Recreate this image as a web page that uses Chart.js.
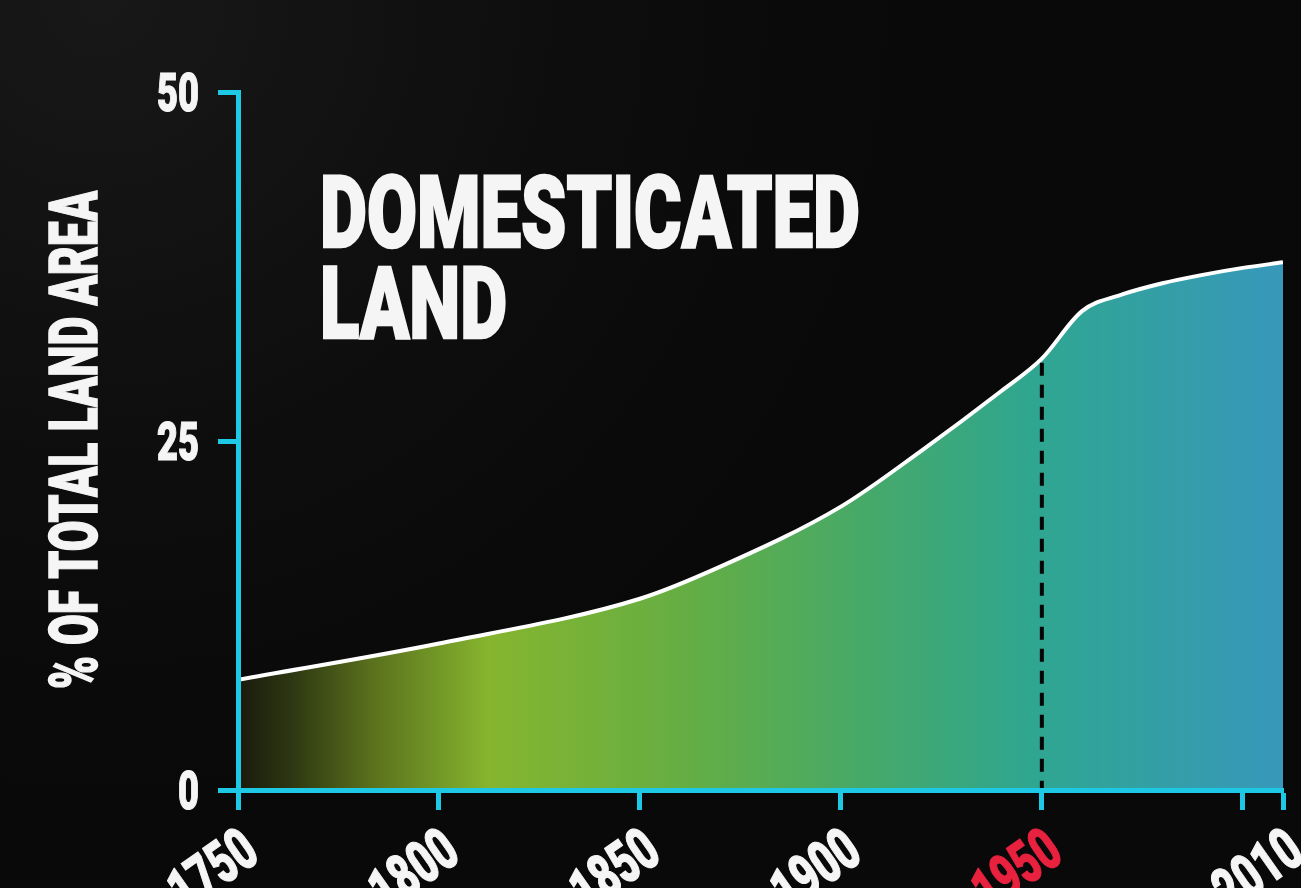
<!DOCTYPE html>
<html>
<head>
<meta charset="utf-8">
<script src="https://cdn.jsdelivr.net/npm/chart.js@4.4.1/dist/chart.umd.min.js"></script>
<style>
  html, body { margin: 0; padding: 0; background: #0a0a0a; }
  canvas { display: block; }
</style>
</head>
<body>
<canvas id="chart" width="1301" height="888"></canvas>
<script>
// data
const years = [1750, 1800, 1850, 1870, 1900, 1920, 1940, 1950, 1960, 1970, 1980, 1990, 2000, 2010];
const landShare = [7.9, 10.5, 13.7, 16.0, 20.3, 24.3, 28.6, 30.9, 34.3, 35.5, 36.3, 36.9, 37.4, 37.8];
const xTicks = [1750, 1800, 1850, 1900, 1950, 2000, 2010];
const xTickLabels = ['1750', '1800', '1850', '1900', '1950', '', '2010'];
const yTicks = [0, 25, 50];
const highlightYear = 1950;
const titleLines = ['DOMESTICATED', 'LAND'];
const yTitle = '% OF TOTAL LAND AREA';

const CYAN = '#1ec9e6';
const WHITE = '#f5f5f5';
const RED = '#e8213f';
const FONT = 'Roboto, "Liberation Sans", sans-serif';
const WEIGHT = '900';

// draws heavy text squeezed horizontally to look like a condensed face;
// a stroke in the same colour fattens the strokes a little
function condensed(ctx, text, x, y, size, sx, align, fat) {
  ctx.save();
  ctx.font = WEIGHT + ' ' + size + 'px ' + FONT;
  ctx.textAlign = align || 'left';
  ctx.textBaseline = 'alphabetic';
  ctx.translate(x, y);
  ctx.scale(sx, 1);
  ctx.fillText(text, 0, 0);
  if (fat) {
    ctx.strokeStyle = ctx.fillStyle;
    ctx.lineWidth = fat;
    ctx.lineJoin = 'miter';
    ctx.strokeText(text, 0, 0);
  }
  ctx.restore();
}

function fitScale(ctx, text, size, width) {
  ctx.save();
  ctx.font = WEIGHT + ' ' + size + 'px ' + FONT;
  const w = ctx.measureText(text).width;
  ctx.restore();
  return width / w;
}

const background = {
  id: 'background',
  beforeDraw(chart) {
    const ctx = chart.ctx;
    const g = ctx.createRadialGradient(100, 0, 0, 100, 0, 800);
    g.addColorStop(0, '#181818');
    g.addColorStop(0.6, '#0d0d0d');
    g.addColorStop(1, '#090909');
    ctx.save();
    ctx.fillStyle = g;
    ctx.fillRect(0, 0, chart.width, chart.height);
    ctx.restore();
  }
};

const marker = {
  id: 'marker',
  afterDatasetsDraw(chart) {
    const ctx = chart.ctx;
    const xs = chart.scales.x, ys = chart.scales.y;
    const x = xs.getPixelForValue(highlightYear);
    const top = ys.getPixelForValue(landShare[years.indexOf(highlightYear)]) + 4;
    const bottom = ys.getPixelForValue(0);
    ctx.save();
    ctx.strokeStyle = '#050505';
    ctx.lineWidth = 4;
    ctx.setLineDash([13, 9]);
    ctx.beginPath();
    ctx.moveTo(x, top);
    ctx.lineTo(x, bottom);
    ctx.stroke();
    ctx.restore();
  }
};

const labels = {
  id: 'labels',
  afterDraw(chart) {
    const ctx = chart.ctx;
    const xs = chart.scales.x, ys = chart.scales.y;
    ctx.save();
    ctx.fillStyle = WHITE;

    const ds = fitScale(ctx, '50', 54, 42);

    // y tick labels
    yTicks.forEach(v => {
      const y = ys.getPixelForValue(v);
      condensed(ctx, String(v), 199, y + 19, 54, ds, 'right', 1.2);
    });

    // x tick labels, rotated
    const ang = 35 * Math.PI / 180;
    xTicks.forEach((v, i) => {
      const text = xTickLabels[i];
      if (!text) return;
      const x = xs.getPixelForValue(v);
      ctx.save();
      ctx.fillStyle = v === highlightYear ? RED : WHITE;
      ctx.translate(x + 24, ys.bottom + 69);
      ctx.rotate(-ang);
      condensed(ctx, text, 0, 0, 60, ds, 'right', 1.2);
      ctx.restore();
    });

    // y axis title
    const ts = fitScale(ctx, yTitle, 66, 498);
    ctx.save();
    ctx.translate(97, 440);
    ctx.rotate(-Math.PI / 2);
    condensed(ctx, yTitle, 0, 0, 66, ts, 'center', 1.5);
    ctx.restore();

    // chart title
    const hs = fitScale(ctx, titleLines[0], 101, 540);
    condensed(ctx, titleLines[0], 320, 247, 101, hs, 'left', 2.5);
    condensed(ctx, titleLines[1], 320, 338, 101, hs, 'left', 2.5);
    ctx.restore();
  }
};

function fillGradient(context) {
  const ca = context.chart.chartArea;
  if (!ca) return 'rgba(0,0,0,0)';
  const g = context.chart.ctx.createLinearGradient(ca.left, 0, ca.right, 0);
  g.addColorStop(0.0, '#191b0c');
  g.addColorStop(0.05, '#2d3612');
  g.addColorStop(0.13, '#5b721d');
  g.addColorStop(0.24, '#86b52f');
  g.addColorStop(0.42, '#66ae42');
  g.addColorStop(0.60, '#46a968');
  g.addColorStop(0.76, '#2fa690');
  g.addColorStop(1.0, '#3898bb');
  return g;
}

function fixWidth(w) {
  return scale => {
    scale.width = w;
    scale.paddingTop = scale.paddingBottom = scale.paddingLeft = scale.paddingRight = 0;
  };
}
function fixHeight(h) {
  return scale => {
    scale.height = h;
    scale.paddingTop = scale.paddingBottom = scale.paddingLeft = scale.paddingRight = 0;
  };
}

const axisGrid = {
  display: true,
  drawOnChartArea: false,
  drawTicks: true,
  tickLength: 20,
  tickWidth: 5,
  tickColor: CYAN,
  z: 1
};
const axisBorder = { display: true, color: CYAN, width: 5, z: 1 };

new Chart(document.getElementById('chart'), {
  type: 'line',
  data: {
    datasets: [{
      label: 'Domesticated land',
      data: years.map((x, i) => ({ x: x, y: landShare[i] })),
      borderColor: '#ffffff',
      borderWidth: 4,
      pointRadius: 0,
      cubicInterpolationMode: 'monotone',
      fill: 'origin',
      backgroundColor: fillGradient
    }]
  },
  options: {
    responsive: false,
    devicePixelRatio: 1,
    animation: false,
    layout: { padding: { top: 92, right: 18, left: 0, bottom: 0 } },
    plugins: {
      legend: { display: false },
      tooltip: { enabled: false }
    },
    scales: {
      x: {
        type: 'linear',
        min: 1750,
        max: 2010,
        afterBuildTicks: scale => { scale.ticks = xTicks.map(v => ({ value: v })); },
        afterFit: fixHeight(98),
        grid: axisGrid,
        border: axisBorder,
        ticks: { display: false }
      },
      y: {
        min: 0,
        max: 50,
        afterBuildTicks: scale => { scale.ticks = yTicks.map(v => ({ value: v })); },
        afterFit: fixWidth(238),
        grid: axisGrid,
        border: axisBorder,
        ticks: { display: false }
      }
    }
  },
  plugins: [background, marker, labels]
});
</script>
</body>
</html>
